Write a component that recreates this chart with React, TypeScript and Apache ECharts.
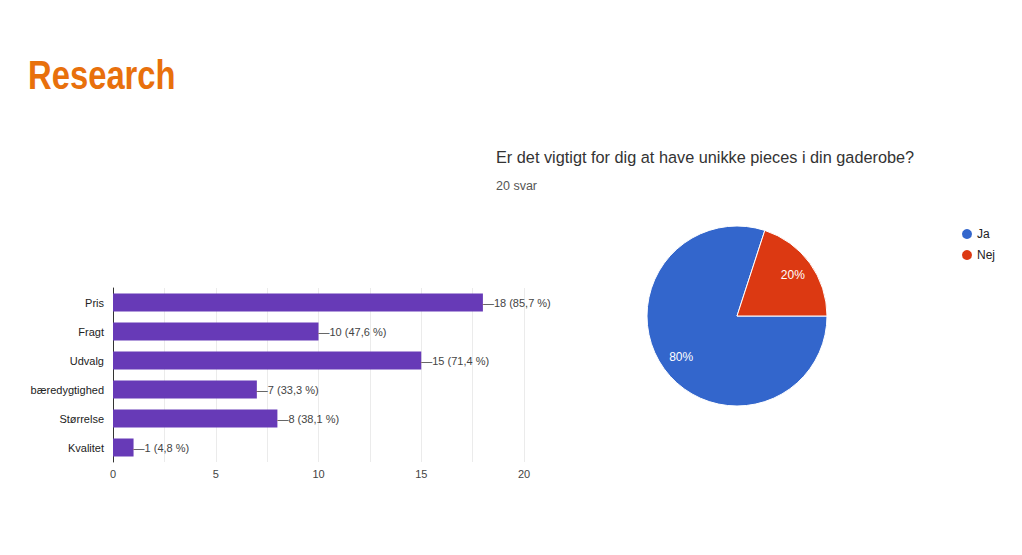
import React, { useEffect, useRef } from "react";
import * as echarts from "echarts";

const categories = ["Pris", "Fragt", "Udvalg", "bæredygtighed", "Størrelse", "Kvalitet"];
const counts = [18, 10, 15, 7, 8, 1];
const percents = ["85,7", "47,6", "71,4", "33,3", "38,1", "4,8"];
const xTicks = [0, 5, 10, 15, 20];

const pieNames = ["Ja", "Nej"];
const pieValues = [16, 4];
const pieColors = ["#3366cc", "#dc3912"];

const FONT = "'Liberation Sans', Arial, sans-serif";

export default function App() {
  const ref = useRef<HTMLDivElement>(null);
  useEffect(() => {
    document.body.style.margin = "0";
    const chart = echarts.init(ref.current!, null, { renderer: "svg" });
    const pieData = pieNames.map((n, i) => ({ name: n, value: pieValues[i], itemStyle: { color: pieColors[i] } }));
    chart.setOption({
      animation: false,
      backgroundColor: "#ffffff",
      textStyle: { fontFamily: FONT },
      graphic: [
        {
          type: "text",
          x: 28,
          y: 55,
          scaleX: 0.82,
          style: {
            text: "Research",
            fontFamily: "'Liberation Sans', sans-serif",
            fontWeight: "bold",
            fontSize: 40,
            fill: "#e8700c",
          },
        },
      ],
      title: [
        {
          text: "Er det vigtigt for dig at have unikke pieces i din gaderobe?",
          left: 491,
          top: 144,
          textStyle: { fontFamily: FONT, fontWeight: "normal", fontSize: 16.3, color: "#333333" },
        },
        {
          text: "20 svar",
          left: 491,
          top: 174,
          textStyle: { fontFamily: FONT, fontWeight: "normal", fontSize: 12.5, color: "#555555" },
        },
      ],
      legend: {
        data: pieNames,
        orient: "vertical",
        left: 955,
        top: 222,
        icon: "circle",
        itemWidth: 12,
        itemHeight: 12,
        itemGap: 7,
        textStyle: { fontFamily: FONT, fontSize: 12, color: "#222222", padding: [0, 0, 0, -1] },
      },
      grid: { left: 113, right: 498, top: 288, bottom: 93, containLabel: false },
      xAxis: {
        type: "value",
        min: 0,
        max: 20,
        interval: 2.5,
        axisLine: { show: false },
        axisTick: { show: false },
        splitLine: { lineStyle: { color: "#ebebeb" } },
        axisLabel: {
          margin: 6,
          fontSize: 11,
          color: "#444444",
          formatter: (v: number) => (xTicks.includes(v) ? String(v) : ""),
        },
      },
      yAxis: {
        type: "category",
        data: categories,
        inverse: true,
        axisLine: { show: true, lineStyle: { color: "#333333", width: 1 } },
        axisTick: { show: false },
        axisLabel: { margin: 9, fontSize: 11, color: "#222222" },
      },
      series: [
        {
          type: "bar",
          data: counts,
          barWidth: 18,
          itemStyle: { color: "#673ab7" },
          label: {
            show: true,
            position: "right",
            distance: 0,
            fontSize: 11,
            color: "#444444",
            formatter: (p: any) => `—${counts[p.dataIndex]} (${percents[p.dataIndex]} %)`,
          },
        },
        {
          type: "pie",
          data: pieData,
          center: [737, 316],
          radius: 90,
          startAngle: 0,
          clockwise: true,
          itemStyle: { borderColor: "#ffffff", borderWidth: 1 },
          label: { show: false },
          labelLine: { show: false },
        },
        {
          type: "pie",
          data: pieNames.map((n, i) => ({ name: n, value: pieValues[i] })),
          center: [737, 316],
          radius: [42, 90],
          startAngle: 0,
          clockwise: true,
          silent: true,
          legendHoverLink: false,
          itemStyle: { color: "rgba(0,0,0,0)" },
          label: {
            show: true,
            position: "inside",
            color: "#ffffff",
            fontSize: 12,
            formatter: (p: any) => `${Math.round(p.percent)}%`,
          },
          labelLine: { show: false },
        },
      ],
    });
    return () => chart.dispose();
  }, []);
  return <div ref={ref} style={{ width: 1022, height: 555 }} />;
}
